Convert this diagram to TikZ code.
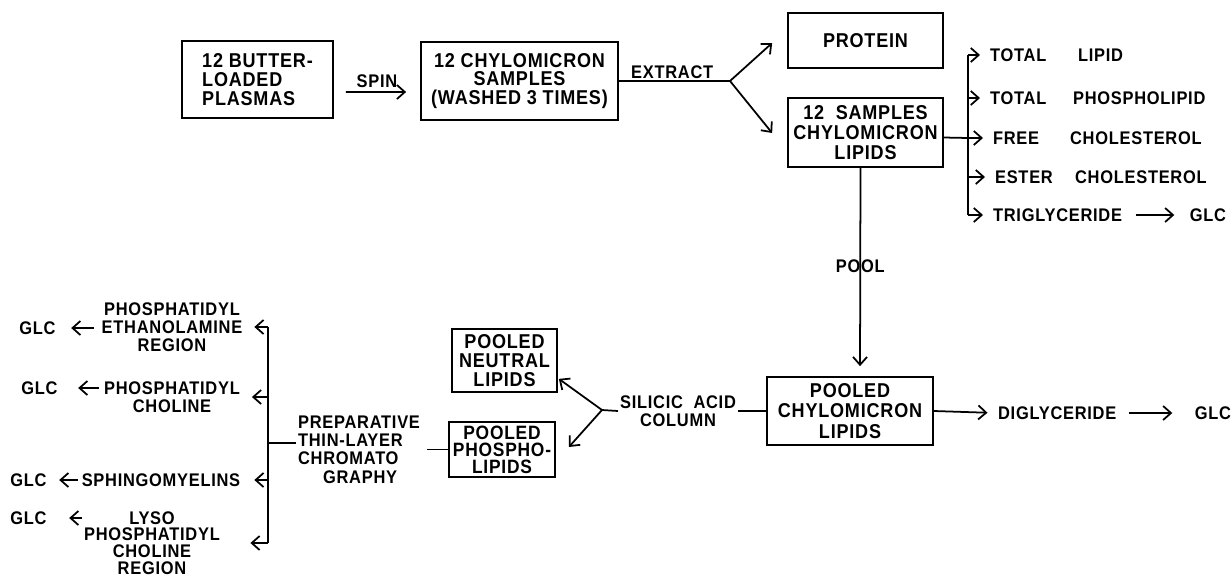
\documentclass[tikz,border=0pt]{standalone}
\usepackage{fontspec}
\setmainfont{Liberation Sans}[LetterSpace=4, FakeStretch=0.9]
\usepackage{tikz}
\usetikzlibrary{arrows.meta}
\newcommand{\boxfont}{\fontsize{11.4}{10.6}\selectfont\bfseries}
\newcommand{\lblfont}{\fontsize{10.4}{10.4}\selectfont\bfseries}
\newcommand{\wpair}[3]{\makebox[#1][l]{#2}#3}

\begin{document}
\begin{tikzpicture}[x=0.02cm, y=-0.02cm,
          bx/.style={draw, line width=1pt, inner sep=2pt, align=center, font=\boxfont},
          lbl/.style={inner sep=1pt, align=center, font=\lblfont},
          ln/.style={line width=1pt},
          arr/.style={ln, -{Straight Barb[length=4.5pt, width=8pt]}}
        ]
        \useasboundingbox (0,0) rectangle (1232,579);

        \node[bx, minimum width=3.02cm, minimum height=1.54cm, align=left]
              (plasma) at (257.5,79.5) {12 BUTTER-\\LOADED\\PLASMAS};
        \node[bx, minimum width=3.94cm, minimum height=1.56cm]
              (chylo)  at (519.5,81) {12 CHYLOMICRON\\SAMPLES\\(WASHED 3 TIMES)};
        \node[bx, minimum width=3.1cm, minimum height=1.1cm]
              (prot)   at (865.5,40.5) {PROTEIN};
        \node[bx, minimum width=3.1cm, minimum height=1.38cm, font={\boxfont\fontsize{11.4}{11.4}\selectfont}]
              (lip12)  at (865.5,132.5) {12\ \ SAMPLES\\CHYLOMICRON\\LIPIDS};
        \node[bx, minimum width=3.32cm, minimum height=1.36cm, font={\boxfont\fontsize{11.4}{11.6}\selectfont}]
              (pool)   at (850,411) {POOLED\\CHYLOMICRON\\LIPIDS};
        \node[bx, minimum width=2.1cm, minimum height=1.26cm]
              (neut)   at (504.5,360.5) {POOLED\\NEUTRAL\\LIPIDS};
        \node[bx, minimum width=2.12cm, minimum height=1.1cm, font={\boxfont\fontsize{11}{9.6}\selectfont}]
              (phos)   at (502,449.5) {POOLED\\PHOSPHO-\\LIPIDS};

        \node[lbl, anchor=west] (tl) at (988,55)  {\wpair{1.76cm}{TOTAL}{LIPID}};
        \node[lbl, anchor=west] (tp) at (988,98)  {\wpair{1.66cm}{TOTAL}{PHOSPHOLIPID}};
        \node[lbl, anchor=west] (fc) at (991,138) {\wpair{1.54cm}{FREE}{CHOLESTEROL}};
        \node[lbl, anchor=west] (ec) at (993,177) {\wpair{1.6cm}{ESTER}{CHOLESTEROL}};
        \node[lbl, anchor=west] (tg) at (991,215) {TRIGLYCERIDE};
        \node[lbl] (glcT) at (1208,215) {GLC};
        \node[lbl, anchor=west] (dg) at (996,413) {DIGLYCERIDE};
        \node[lbl] (glcD) at (1213,413) {GLC};

        \node[lbl] (sil)  at (678,411) {SILICIC\ \ ACID\\COLUMN};
        \node[lbl, anchor=west, align=left]
              (prep) at (296,449.5) {PREPARATIVE\\THIN-LAYER\\CHROMATO\\\hspace*{0.5cm}GRAPHY};

        \node[lbl] (pe) at (172,327) {PHOSPHATIDYL\\ETHANOLAMINE\\REGION};
        \node[lbl] (pc) at (172,397) {PHOSPHATIDYL\\CHOLINE};
        \node[lbl] (sm) at (161,480) {SPHINGOMYELINS};
        \node[lbl, font={\lblfont\fontsize{10.4}{9.5}\selectfont}]
              (ly) at (152,543) {LYSO\\PHOSPHATIDYL\\CHOLINE\\REGION};
        \node[lbl] (g1) at (37.5,328) {GLC};
        \node[lbl] (g2) at (39.5,388) {GLC};
        \node[lbl] (g3) at (28.5,480) {GLC};
        \node[lbl] (g4) at (28.5,518) {GLC};

        \coordinate (xs)  at (730,81);
        \coordinate (ss)  at (602,410);
        \coordinate (rbr) at (968,138);
        \coordinate (lbr) at (268,443);

        \draw[arr, shorten <=0.24cm, shorten >=0.28cm] ([yshift=-0.25cm]plasma.east)
              -- node[lbl, above, inner sep=2pt] {SPIN} ([yshift=-0.22cm]chylo.west);
        \draw[ln] (chylo.east) -- node[lbl, above, pos=0.48] {EXTRACT} (xs);
        \draw[arr] (xs) -- ([shift={(-15,2.5)}]prot.west);
        \draw[arr] (xs) -- ([shift={(-15,0.5)}]lip12.west);

        \draw[ln] ([yshift=-0.1cm]lip12.east) -- (rbr);
        \draw[ln] (tl.west -| rbr) -- (tg.west -| rbr);
        \foreach \n in {tl,tp,fc,ec,tg}
          \draw[arr, shorten >=0.16cm] (\n.west -| rbr) -- (\n.west);
        \draw[arr, shorten <=0.23cm, shorten >=0.27cm] (tg.east) -- (glcT.west);

        \draw[arr, shorten >=0.2cm] ([xshift=-0.1cm]lip12.south)
              -- node[lbl, pos=0.47] {POOL} ([xshift=0.2cm]pool.north);
        \draw[arr, shorten >=0.17cm] (pool.east) -- (dg.west);
        \draw[arr, shorten <=0.21cm, shorten >=0.41cm] (dg.east) -- (glcD.west);

        \draw[ln] (pool.west) -- (sil.east);
        \draw[ln] (sil.west) -- (ss);
        \draw[arr] (ss) -- ([shift={(1,-14)}]neut.south east);
        \draw[arr] (ss) -- ([shift={(13,-2.5)}]phos.east);
        \draw[ln, shorten >=0.1cm] (phos.west) -- (phos.west -| prep.east);
        \draw[ln] (lbr -| prep.west) -- (lbr);

        \draw[ln] (pe.east -| lbr) -- (ly.east -| lbr);
        \draw[arr, shorten >=0.2cm]  (pe.east -| lbr) -- (pe.east);
        \draw[arr, shorten >=0.2cm]  (pc.east -| lbr) -- (pc.east);
        \draw[arr, shorten >=0.24cm] (sm.east -| lbr) -- (sm.east);
        \draw[arr, shorten >=0.57cm] (ly.east -| lbr) -- (ly.east);

        \draw[arr, shorten <=0.11cm, shorten >=0.27cm] (g1.east -| pe.west) -- (g1.east);
        \draw[arr, shorten <=0.07cm, shorten >=0.37cm] (g2.east -| pc.west) -- (g2.east);
        \draw[arr, shorten <=0.03cm, shorten >=0.21cm] (g3.east -| sm.west) -- (g3.east);
        \draw[arr, shorten >=0.41cm] (g4.east -| ly.west) -- (g4.east);
      \end{tikzpicture}
\end{document}
